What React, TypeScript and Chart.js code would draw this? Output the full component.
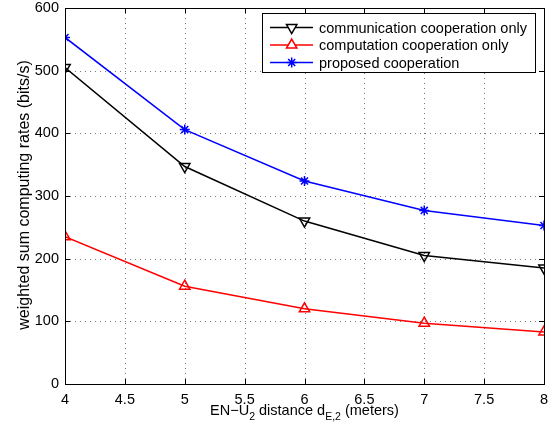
import React, { useEffect, useRef } from "react";
import { Chart, registerables } from "chart.js";
import * as helpers from "chart.js/helpers";

Chart.register(...registerables);

const distances = [4, 5, 6, 7, 8];
const commOnly = [505, 347, 260, 205, 185];
const compOnly = [235, 156, 120, 97, 83];
const proposed = [553, 406, 324, 277, 253];
const seriesNames = [
  "communication cooperation only",
  "computation cooperation only",
  "proposed cooperation",
];
const xTicks = [4, 4.5, 5, 5.5, 6, 6.5, 7, 7.5, 8];
const yTicks = [0, 100, 200, 300, 400, 500, 600];

const FONT = "Liberation Sans, Arial, Helvetica, sans-serif";
const FS = 14.5;

function makeData() {
  return {
    datasets: [
      {
        label: seriesNames[0],
        data: distances.map((x, i) => ({ x, y: commOnly[i] })),
        borderColor: "#000000",
        backgroundColor: "rgba(0,0,0,0)",
        pointStyle: "triangle",
        rotation: 180,
        pointRadius: 6,
        pointBorderWidth: 1.5,
        borderWidth: 1.5,
      },
      {
        label: seriesNames[1],
        data: distances.map((x, i) => ({ x, y: compOnly[i] })),
        borderColor: "#ff0000",
        backgroundColor: "rgba(0,0,0,0)",
        pointStyle: "triangle",
        rotation: 0,
        pointRadius: 6,
        pointBorderWidth: 1.5,
        borderWidth: 1.5,
      },
      {
        label: seriesNames[2],
        data: distances.map((x, i) => ({ x, y: proposed[i] })),
        borderColor: "#0000ff",
        backgroundColor: "rgba(0,0,0,0)",
        pointStyle: "star",
        rotation: 0,
        pointRadius: 5,
        pointBorderWidth: 1.5,
        borderWidth: 1.5,
      },
    ],
  };
}

const gridPlugin = {
  id: "dotgrid",
  beforeDatasetsDraw(chart: any) {
    const ctx = chart.ctx;
    const { left, right, top, bottom } = chart.chartArea;
    const xs = chart.scales.x;
    const ys = chart.scales.y;
    ctx.save();
    ctx.strokeStyle = "#777";
    ctx.lineWidth = 1;
    ctx.setLineDash([1, 4]);
    ctx.beginPath();
    xTicks.slice(1, -1).forEach((t) => {
      const px = Math.round(xs.getPixelForValue(t)) + 0.5;
      ctx.moveTo(px, bottom);
      ctx.lineTo(px, top);
    });
    yTicks.slice(1, -1).forEach((t) => {
      const py = Math.round(ys.getPixelForValue(t)) + 0.5;
      ctx.moveTo(left, py);
      ctx.lineTo(right, py);
    });
    ctx.stroke();
    ctx.restore();
  },
};

const framePlugin = {
  id: "frame",
  afterDraw(chart: any) {
    const ctx = chart.ctx;
    const { left, right, top, bottom } = chart.chartArea;
    const xs = chart.scales.x;
    const ys = chart.scales.y;
    ctx.save();
    ctx.strokeStyle = "#000";
    ctx.lineWidth = 1;
    const tl = 5;
    ctx.beginPath();
    xTicks.forEach((t) => {
      const px = Math.round(xs.getPixelForValue(t)) + 0.5;
      ctx.moveTo(px, bottom);
      ctx.lineTo(px, bottom - tl);
      ctx.moveTo(px, top);
      ctx.lineTo(px, top + tl);
    });
    yTicks.forEach((t) => {
      const py = Math.round(ys.getPixelForValue(t)) + 0.5;
      ctx.moveTo(left, py);
      ctx.lineTo(left + tl, py);
      ctx.moveTo(right, py);
      ctx.lineTo(right - tl, py);
    });
    ctx.stroke();
    ctx.strokeRect(left + 0.5, top + 0.5, right - left, bottom - top);

    // x axis title with subscripts
    ctx.fillStyle = "#000";
    ctx.textBaseline = "alphabetic";
    ctx.textAlign = "left";
    const main = FS + "px " + FONT;
    const sub = "10.5px " + FONT;
    const parts: [string, boolean][] = [
      ["EN\u2212U", false],
      ["2", true],
      [" distance d", false],
      ["E,2", true],
      [" (meters)", false],
    ];
    let total = 0;
    parts.forEach(([s, isSub]) => {
      ctx.font = isSub ? sub : main;
      total += ctx.measureText(s).width;
    });
    let cx = (left + right) / 2 - total / 2;
    const baseY = 415;
    parts.forEach(([s, isSub]) => {
      ctx.font = isSub ? sub : main;
      ctx.fillText(s, cx, isSub ? baseY + 5 : baseY);
      cx += ctx.measureText(s).width;
    });

    // y axis title
    ctx.save();
    ctx.translate(25, 195);
    ctx.rotate(-Math.PI / 2);
    ctx.font = "16px " + FONT;
    ctx.textAlign = "center";
    ctx.textBaseline = "middle";
    ctx.fillText("weighted sum computing rates (bits/s)", 0, 0);
    ctx.restore();

    // legend
    const bx = 262.5, by = 13.5, bw = 273, bh = 59;
    ctx.fillStyle = "#fff";
    ctx.fillRect(bx, by, bw, bh);
    ctx.strokeStyle = "#000";
    ctx.lineWidth = 1;
    ctx.strokeRect(bx, by, bw, bh);
    const rows = [27.5, 45, 62.5];
    chart.data.datasets.forEach((ds: any, i: number) => {
      const y = rows[i];
      ctx.save();
      ctx.strokeStyle = ds.borderColor;
      ctx.lineWidth = 1.5;
      ctx.beginPath();
      ctx.moveTo(270, y);
      ctx.lineTo(313, y);
      ctx.stroke();
      ctx.fillStyle = "#fff";
      helpers.drawPoint(
        ctx,
        { pointStyle: ds.pointStyle, rotation: ds.rotation || 0, radius: ds.pointRadius, borderWidth: 1.5 } as any,
        291.7,
        y
      );
      ctx.restore();
      ctx.fillStyle = "#000";
      ctx.font = main;
      ctx.textAlign = "left";
      ctx.textBaseline = "middle";
      ctx.fillText(ds.label, 319, y + 1);
    });
    ctx.restore();
  },
};

export default function App() {
  const ref = useRef<HTMLCanvasElement | null>(null);
  useEffect(() => {
    document.body.style.margin = "0";
    const canvas = ref.current!;
    const chart = new Chart(canvas, {
      type: "line",
      data: makeData() as any,
      options: {
        animation: false,
        responsive: false,
        maintainAspectRatio: false,
        layout: { padding: { left: 0, right: 8, top: 8, bottom: 0 } },
        plugins: { legend: { display: false }, tooltip: { enabled: false } },
        elements: { line: { tension: 0 } },
        scales: {
          x: {
            type: "linear",
            min: 4,
            max: 8,
            afterFit: (s: any) => {
              s.height = 48;
              s.paddingLeft = 0;
              s.paddingRight = 0;
            },
            afterBuildTicks: (s: any) => {
              s.ticks = xTicks.map((v) => ({ value: v }));
            },
            ticks: {
              color: "#000",
              font: { family: FONT, size: FS },
              maxRotation: 0,
              padding: 7,
              callback: (v: any) => String(v),
            },
            grid: { display: false, drawTicks: false, tickLength: 0 },
            border: { display: false },
          },
          y: {
            type: "linear",
            min: 0,
            max: 600,
            afterFit: (s: any) => {
              s.width = 65;
              s.paddingTop = 0;
              s.paddingBottom = 0;
            },
            afterBuildTicks: (s: any) => {
              s.ticks = yTicks.map((v) => ({ value: v }));
            },
            ticks: {
              color: "#000",
              font: { family: FONT, size: FS },
              padding: 6,
            },
            grid: { display: false, drawTicks: false, tickLength: 0 },
            border: { display: false },
          },
        },
      },
      plugins: [gridPlugin, framePlugin],
    });
    return () => chart.destroy();
  }, []);
  return (
    <div style={{ width: 552, height: 432 }}>
      <canvas ref={ref} width={552} height={432} style={{ display: "block" }} />
    </div>
  );
}
